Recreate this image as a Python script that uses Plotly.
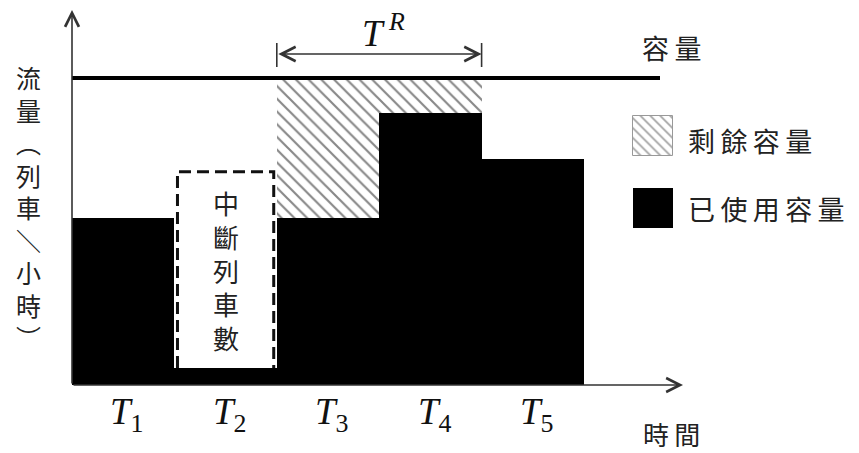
import plotly.graph_objects as go

# ---- data ----
periods = ["1", "2", "3", "4", "5"]
used_capacity = [5.45, 0.55, 5.45, 8.85, 7.35]   # 已使用容量 per period
capacity = 10.0                                   # 容量
interrupted_top = [None, 6.95, None, None, None]  # 中斷列車數 (T2)
spare_periods = [2, 3]                            # T^R covers T3, T4

# ---- page geometry (pixels, as seen on the page) ----
OFF = 8                   # default body margin of the html page
W, H = 859 - OFF, 453 - OFF
X0, Y0 = 72, 385          # origin of the axes on the page
UX, UY = 102.4, 30.7      # pixels per period / per unit of flow

def px(x):
    return (x - OFF) / W

def py(y):
    return 1 - (y - OFF) / H

def dx(x):
    return (x - X0) / UX

def dy(y):
    return (Y0 - y) / UY

xc = [i + 0.5 for i in range(len(periods))]
ink = "#111"
cjk = "Noto Sans CJK TC"
serif = "Liberation Serif"
txt = "#222"

fig = go.Figure()

# used capacity (black)
fig.add_trace(go.Bar(x=xc, y=used_capacity, width=1, marker=dict(color="black", line_width=0),
                     showlegend=False))

# remaining capacity (hatched) over T^R
hatch = dict(shape="\\", fgcolor="#111", bgcolor="white", size=9, solidity=0.24)
fig.add_trace(go.Bar(
    x=[xc[i] for i in spare_periods],
    y=[capacity - used_capacity[i] for i in spare_periods],
    base=[used_capacity[i] for i in spare_periods],
    width=1,
    marker=dict(color="white", line_width=0, pattern=hatch),
    showlegend=False))

# dashed box for interrupted trains
for i, top in enumerate(interrupted_top):
    if top is None:
        continue
    ins = 0.03
    fig.add_trace(go.Scatter(
        x=[i + ins, i + ins, i + 1 - ins, i + 1 - ins],
        y=[used_capacity[i], top, top, used_capacity[i]],
        mode="lines", line=dict(color=ink, width=3, dash="12px,6px"),
        showlegend=False, hoverinfo="skip"))
    fig.add_annotation(x=xc[i], y=(used_capacity[i] + top) / 2, xref="x", yref="y",
                       xanchor="center", yanchor="middle",
                       text="<br>".join("中斷列車數"), showarrow=False,
                       font=dict(family=cjk, size=26, color=txt))

# capacity line
fig.add_trace(go.Scatter(x=[0, dx(660)], y=[capacity, capacity], mode="lines",
                         line=dict(color="black", width=4), showlegend=False, hoverinfo="skip"))

# legend swatches
sw_x, sw_w = dx(653), 40 / UX
fig.add_trace(go.Bar(x=[sw_x], y=[40 / UY], base=[dy(156)], width=sw_w,
                     marker=dict(color="white", line=dict(color="#999", width=1),
                                 pattern=dict(hatch, size=7, fgcolor="#444")),
                     showlegend=False))
fig.add_trace(go.Bar(x=[sw_x], y=[40 / UY], base=[dy(228)], width=sw_w,
                     marker=dict(color="black", line_width=0), showlegend=False))

# axes with arrows
ax_col = "#333"
arrow = dict(xref="x", yref="y", axref="x", ayref="y", text="", showarrow=True,
             arrowhead=5, arrowcolor=ax_col)
fig.add_annotation(x=0, y=dy(10), ax=0, ay=0, arrowsize=1.7, arrowwidth=1.6, **arrow)
fig.add_annotation(x=dx(683), y=0, ax=0, ay=0, arrowsize=1.7, arrowwidth=1.6, **arrow)

# T^R double arrow
s0, s1 = spare_periods[0], spare_periods[-1] + 1
ya = dy(54)
fig.add_annotation(x=s1, y=ya, ax=s0, ay=ya, arrowside="end+start",
                   arrowsize=2.0, arrowwidth=1.4, **arrow)
fig.add_trace(go.Scatter(x=[s0, s0, None, s1, s1], y=[dy(43), dy(67), None, dy(43), dy(67)],
                         mode="lines", line=dict(color=ax_col, width=1.6),
                         showlegend=False, hoverinfo="skip"))
fig.add_annotation(x=px(383), y=py(31), xref="paper", yref="paper", showarrow=False,
                   xanchor="center", yanchor="middle",
                   text="<i>T</i><sup> <i>R</i></sup>",
                   font=dict(family=serif, size=37, color=ink))

# period labels
for i, p in enumerate(periods):
    fig.add_annotation(x=xc[i] + 0.04, y=py(414), xref="x", yref="paper", showarrow=False,
                       xanchor="center", yanchor="middle",
                       text="<i>T</i><sub>%s</sub>" % p,
                       font=dict(family=serif, size=37, color=ink))

# texts
def label(x, y, text, xanchor="center", size=27):
    fig.add_annotation(x=px(x), y=py(y), xref="paper", yref="paper", showarrow=False,
                       xanchor=xanchor, yanchor="middle", text=text,
                       font=dict(family=cjk, size=size, color=txt))

label(671, 47, "容\u2009量")
label(671, 433, "時\u2009間", size=26)
label(686, 140, "\u2009".join("剩餘容量"), xanchor="left")
label(686, 208, "\u2009".join("已使用容量"), xanchor="left")
label(28, 207, "<br>".join(["流", "量", "︵", "列", "車", "＼", "小", "時", "︶"]), size=25)

fig.update_layout(
    width=W, height=H, margin=dict(l=0, r=0, t=0, b=0),
    paper_bgcolor="white", plot_bgcolor="white",
    barmode="overlay", bargap=0,
    xaxis=dict(range=[dx(OFF), dx(OFF + W)], visible=False, fixedrange=True),
    yaxis=dict(range=[dy(OFF + H), dy(OFF)], visible=False, fixedrange=True),
)

fig.write_html("out.html")
